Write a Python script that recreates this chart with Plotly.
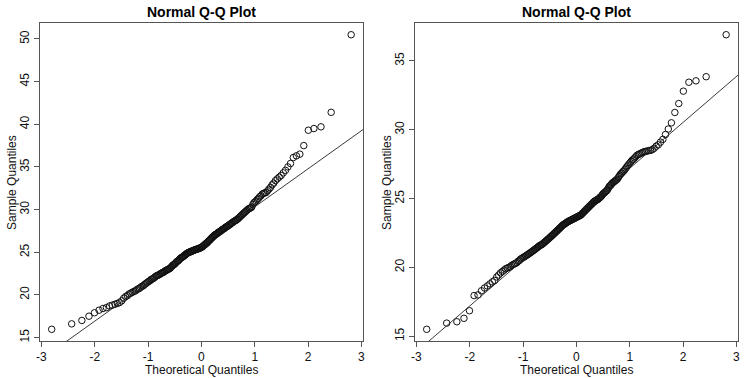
import numpy as np
import plotly.graph_objects as go
from statistics import NormalDist

# ---- data (sorted sample values, n = 200 each) ----
left_sample = [
    15.96, 16.6, 17.0, 17.5, 17.9, 18.2, 18.4, 18.5, 18.7, 18.8,
    18.9, 19.0, 19.1, 19.3, 19.6, 19.8, 19.9, 20.1, 20.2, 20.3,
    20.4, 20.45, 20.6, 20.7, 20.75, 20.9, 21.0, 21.05, 21.2, 21.3,
    21.4, 21.5, 21.6, 21.65, 21.8, 21.85, 21.9, 22.0, 22.1, 22.2,
    22.25, 22.3, 22.35, 22.4, 22.5, 22.55, 22.6, 22.65, 22.7, 22.8,
    22.85, 22.9, 22.95, 23.0, 23.05, 23.1, 23.2, 23.3, 23.4, 23.5,
    23.55, 23.6, 23.7, 23.8, 23.9, 23.95, 24.0, 24.1, 24.2, 24.3,
    24.35, 24.4, 24.45, 24.5, 24.6, 24.65, 24.7, 24.8, 24.85, 24.9,
    24.95, 25.0, 25.0, 25.05, 25.1, 25.1, 25.15, 25.2, 25.2, 25.25,
    25.3, 25.3, 25.35, 25.35, 25.4, 25.4, 25.45, 25.5, 25.5, 25.55,
    25.6, 25.65, 25.7, 25.8, 25.85, 25.9, 26.0, 26.05, 26.1, 26.2,
    26.3, 26.35, 26.45, 26.5, 26.6, 26.7, 26.75, 26.85, 26.9, 27.0,
    27.05, 27.1, 27.15, 27.2, 27.3, 27.35, 27.4, 27.45, 27.5, 27.6,
    27.65, 27.7, 27.75, 27.8, 27.9, 27.95, 28.0, 28.05, 28.1, 28.2,
    28.25, 28.3, 28.4, 28.45, 28.5, 28.6, 28.65, 28.7, 28.75, 28.85,
    28.9, 29.0, 29.1, 29.2, 29.3, 29.4, 29.5, 29.6, 29.7, 29.8,
    29.9, 30.0, 30.1, 30.15, 30.2, 30.3, 30.6, 30.8, 30.9, 31.0,
    31.2, 31.3, 31.5, 31.6, 31.8, 31.9, 31.95, 32.0, 32.2, 32.4,
    32.6, 32.9, 33.1, 33.4, 33.6, 33.8, 34.0, 34.3, 34.6, 35.0,
    35.4, 36.1, 36.3, 36.5, 37.5, 39.3, 39.5, 39.7, 41.4, 50.5,
]

right_sample = [
    15.5, 15.95, 16.05, 16.3, 16.85, 17.95, 18.0, 18.3, 18.5, 18.65,
    18.8, 18.95, 19.05, 19.3, 19.45, 19.6, 19.7, 19.8, 19.9, 19.95,
    20.0, 20.05, 20.15, 20.2, 20.25, 20.3, 20.35, 20.45, 20.5, 20.6,
    20.65, 20.7, 20.75, 20.8, 20.85, 20.9, 20.95, 21.0, 21.05, 21.1,
    21.15, 21.2, 21.25, 21.3, 21.35, 21.4, 21.45, 21.5, 21.55, 21.6,
    21.62, 21.65, 21.7, 21.75, 21.8, 21.85, 21.9, 21.95, 22.0, 22.05,
    22.1, 22.15, 22.2, 22.25, 22.3, 22.35, 22.4, 22.45, 22.5, 22.55,
    22.6, 22.65, 22.7, 22.75, 22.8, 22.85, 22.9, 22.95, 23.0, 23.05,
    23.1, 23.12, 23.15, 23.2, 23.22, 23.25, 23.3, 23.32, 23.35, 23.38,
    23.4, 23.42, 23.45, 23.48, 23.5, 23.52, 23.55, 23.57, 23.6, 23.62,
    23.65, 23.68, 23.7, 23.72, 23.75, 23.78, 23.8, 23.85, 23.9, 23.95,
    24.0, 24.05, 24.1, 24.15, 24.2, 24.25, 24.3, 24.35, 24.4, 24.45,
    24.5, 24.55, 24.6, 24.65, 24.7, 24.75, 24.8, 24.82, 24.85, 24.9,
    24.92, 24.95, 25.0, 25.05, 25.1, 25.15, 25.2, 25.3, 25.35, 25.4,
    25.45, 25.5, 25.55, 25.6, 25.7, 25.8, 25.9, 25.95, 26.0, 26.1,
    26.15, 26.2, 26.25, 26.3, 26.35, 26.4, 26.5, 26.6, 26.7, 26.8,
    26.85, 26.95, 27.0, 27.1, 27.2, 27.3, 27.4, 27.5, 27.6, 27.7,
    27.8, 27.85, 27.95, 28.05, 28.15, 28.2, 28.25, 28.3, 28.35, 28.4,
    28.42, 28.45, 28.48, 28.5, 28.55, 28.65, 28.8, 28.9, 29.1, 29.3,
    29.65, 30.05, 30.5, 31.25, 31.9, 32.8, 33.45, 33.55, 33.85, 36.9,
]

x_ticks = [-3, -2, -1, 0, 1, 2, 3]
left_y_ticks = [15, 20, 25, 30, 35, 40, 45, 50]
right_y_ticks = [15, 20, 25, 30, 35]
panel_title = "Normal Q-Q Plot"
x_title = "Theoretical Quantiles"
y_title = "Sample Quantiles"

FONT = "Liberation Sans, Arial, Helvetica, sans-serif"
W, H = 756, 378
nd = NormalDist()


def theoretical(n):
    a = 3 / 8 if n <= 10 else 0.5
    return [nd.inv_cdf((i - a) / (n + 1 - 2 * a)) for i in range(1, n + 1)]


def padded(lo, hi):
    d = (hi - lo) * 0.04
    return [lo - d, hi + d]


fig = go.Figure()
panels = [
    (left_sample, left_y_ticks, "x", "y", [36, 362]),
    (right_sample, right_y_ticks, "x2", "y2", [414, 740]),
]
y_dom = [1 - 342 / H, 1 - 23 / H]

for idx, (sample, yt, xa, ya, px) in enumerate(panels):
    tq = theoretical(len(sample))
    fig.add_trace(go.Scatter(
        x=tq, y=sample, mode="markers", xaxis=xa, yaxis=ya,
        marker=dict(symbol="circle-open", size=6.5, color="#111",
                    line=dict(width=1, color="#111")),
        showlegend=False, hoverinfo="x+y"))
    xr = padded(min(tq), max(tq))
    yr = padded(min(sample), max(sample))
    q1, q3 = np.percentile(sample, [25, 75])
    z1, z3 = nd.inv_cdf(0.25), nd.inv_cdf(0.75)
    slope = (q3 - q1) / (z3 - z1)
    icpt = q1 - slope * z1
    lx = [xr[0], xr[1]]
    fig.add_trace(go.Scatter(
        x=lx, y=[icpt + slope * v for v in lx], mode="lines",
        xaxis=xa, yaxis=ya, line=dict(color="#222", width=0.9),
        showlegend=False, hoverinfo="skip"))

    dom = [px[0] / W, px[1] / W]
    axcommon = dict(showline=True, mirror=True, linecolor="#555", linewidth=1,
                    ticks="outside", ticklen=5, tickcolor="#555", tickwidth=1,
                    showgrid=False, zeroline=False,
                    tickfont=dict(family=FONT, size=12, color="#111"))
    sfx = "" if idx == 0 else "2"
    fig.update_layout(**{
        "xaxis" + sfx: dict(domain=dom, range=xr, tickvals=x_ticks,
                            ticktext=[str(v) for v in x_ticks],
                            anchor="y" + sfx, **axcommon),
        "yaxis" + sfx: dict(domain=y_dom, range=yr, tickvals=yt,
                            ticktext=[str(v) for v in yt],
                            tickangle=-90, anchor="x" + sfx, **axcommon),
    })
    cx = (dom[0] + dom[1]) / 2
    fig.add_annotation(text="<b>" + panel_title + "</b>", x=cx, y=1 - 12 / H,
                       xref="paper", yref="paper", showarrow=False,
                       xanchor="center", yanchor="middle",
                       font=dict(family=FONT, size=14, color="#000"))
    fig.add_annotation(text=x_title, x=cx, y=1 - 371 / H,
                       xref="paper", yref="paper", showarrow=False,
                       xanchor="center", yanchor="middle",
                       font=dict(family=FONT, size=12, color="#111"))
    fig.add_annotation(text=y_title, x=(px[0] - 28) / W, y=(y_dom[0] + y_dom[1]) / 2,
                       xref="paper", yref="paper", showarrow=False, textangle=-90,
                       xanchor="center", yanchor="middle",
                       font=dict(family=FONT, size=12, color="#111"))

fig.update_layout(width=W, height=H, margin=dict(l=0, r=0, t=0, b=0),
                  paper_bgcolor="white", plot_bgcolor="white",
                  font=dict(family=FONT))
fig.write_html("out.html",
               config={"displayModeBar": False},
               post_script="document.body.style.margin='0';"
                           "document.body.style.overflow='hidden';")
